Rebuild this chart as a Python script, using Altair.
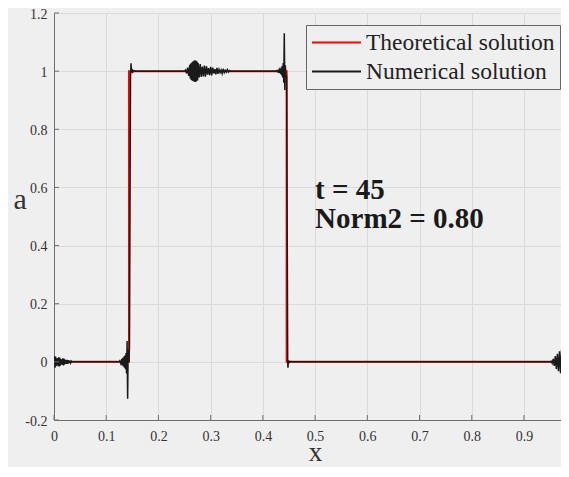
import altair as alt
import pandas as pd

# ---------------- data ----------------
series_names = ["Theoretical solution", "Numerical solution"]
x_ticks = [0.0, 0.1, 0.2, 0.3, 0.4, 0.5, 0.6, 0.7, 0.8, 0.9]
y_ticks = [-0.2, 0.0, 0.2, 0.4, 0.6, 0.8, 1.0, 1.2]

theory_x = [0.0, 0.1436, 0.1436, 0.4455, 0.4455, 1.0]
theory_y = [0.0, 0.0, 1.0, 1.0, 0.0, 0.0]

num_x = [
    0.000, 0.001, 0.002, 0.003, 0.004, 0.005, 0.006, 0.007, 0.008, 0.009,
    0.010, 0.011, 0.012, 0.013, 0.014, 0.015, 0.016, 0.017, 0.018, 0.019,
    0.020, 0.021, 0.022, 0.023, 0.024, 0.025, 0.026, 0.027, 0.028, 0.029,
    0.030, 0.031, 0.032, 0.033, 0.034, 0.036, 0.125,
    0.126, 0.128, 0.130, 0.131, 0.132, 0.133, 0.134, 0.135, 0.136, 0.137,
    0.138, 0.139, 0.140, 0.141, 0.142, 0.1435, 0.1445, 0.1455, 0.1465, 0.1475,
    0.1485, 0.1495, 0.151, 0.153, 0.156, 0.250,
    0.252, 0.254, 0.256, 0.258, 0.260, 0.261, 0.262, 0.263, 0.264, 0.265,
    0.266, 0.267, 0.268, 0.269, 0.270, 0.271, 0.272, 0.273, 0.274, 0.275,
    0.276, 0.278, 0.280, 0.282, 0.284, 0.286, 0.288, 0.290,
    0.292, 0.294, 0.296, 0.298, 0.300, 0.302, 0.304, 0.306, 0.308, 0.310,
    0.312, 0.314, 0.316, 0.318, 0.320, 0.322, 0.324, 0.326, 0.328, 0.330,
    0.332, 0.334, 0.336, 0.338, 0.425,
    0.427, 0.429, 0.431, 0.432, 0.433, 0.434, 0.435, 0.436, 0.437, 0.438,
    0.439, 0.440, 0.441, 0.442, 0.443, 0.444, 0.4455, 0.4465, 0.4475, 0.448,
    0.449, 0.450, 0.452, 0.455, 0.950,
    0.952, 0.954, 0.956, 0.958, 0.960, 0.962, 0.964, 0.966, 0.968, 0.970,
    0.972, 0.974, 0.976, 0.978, 0.980, 0.982, 0.984, 0.986, 0.988, 0.990,
    0.992, 0.994, 0.996, 0.998, 1.000,
]
num_y = [
    0.000, 0.019, -0.020, 0.018, -0.015, 0.012, -0.011, 0.013, -0.015, 0.016,
    -0.016, 0.015, -0.013, 0.010, -0.008, 0.009, -0.011, 0.012, -0.012, 0.011,
    -0.010, 0.008, -0.006, 0.006, -0.007, 0.007, -0.007, 0.006, -0.005, 0.004,
    -0.004, 0.004, -0.003, 0.002, -0.001, 0.000, 0.000,
    0.003, -0.006, 0.010, -0.012, 0.014, -0.016, 0.018, -0.020, 0.022, -0.025,
    0.030, -0.040, 0.072, -0.127, 0.040, 0.000, 0.050, 0.500, 0.980, 1.027,
    0.995, 1.008, 0.997, 1.002, 1.000, 1.000,
    1.004, 0.992, 1.012, 0.984, 1.022, 0.975, 1.026, 0.970, 1.030, 0.967,
    1.033, 0.965, 1.036, 0.964, 1.037, 0.963, 1.036, 0.965, 1.033, 0.968,
    1.028, 0.978, 1.024, 0.980, 1.016, 0.982, 1.019, 0.981,
    1.017, 0.988, 1.010, 0.986, 1.015, 0.985, 1.012, 0.992, 1.007, 0.989,
    1.011, 0.991, 1.006, 0.995, 1.004, 0.992, 1.008, 0.995, 1.003, 0.997,
    1.005, 0.997, 1.002, 1.000, 1.000,
    1.002, 0.997, 1.005, 0.994, 1.008, 0.990, 1.012, 0.985, 1.018, 0.978,
    1.028, 0.960, 1.130, 0.935, 1.020, 0.990, 0.980, 0.500, 0.000, -0.020,
    0.005, -0.003, 0.001, 0.000, 0.000,
    0.002, -0.005, 0.010, -0.014, 0.020, -0.024, 0.028, -0.032, 0.036, -0.039,
    0.041, -0.038, 0.034, -0.030, 0.032, -0.036, 0.039, -0.040, 0.040, -0.038,
    0.035, -0.030, 0.025, -0.020, 0.015,
]

ann_text = ["t = 45", "Norm2 = 0.80"]
ann_x = [0.5, 0.5]
ann_y = [0.56, 0.46]

# ---------------- frames ----------------
theory = pd.DataFrame({"x": theory_x, "a": theory_y,
                       "series": series_names[0], "i": range(len(theory_x))})
numerical = pd.DataFrame({"x": num_x, "a": num_y,
                          "series": series_names[1], "i": range(len(num_x))})
xt = pd.DataFrame({"x": x_ticks})
yt = pd.DataFrame({"a": y_ticks})
ann = pd.DataFrame({"x": ann_x, "a": ann_y, "t": ann_text})

W, H = 507, 407
X_MAX = W / 522.2
SERIF = "Liberation Serif"
BG = "#efefef"
AXC = "#6e6e6e"

xs = alt.Scale(domain=[0, X_MAX], nice=False, zero=False)
ys = alt.Scale(domain=[-0.2, 1.2], nice=False, zero=False)

xaxis = alt.Axis(values=x_ticks, labelExpr="'' + datum.value", ticks=False, tickSize=0,
                 labelPadding=9, labelBaseline="top", labelFont=SERIF, labelFontSize=14,
                 labelColor="#333333", domainColor=AXC, gridColor="#dadada",
                 title="x", titleFont=SERIF, titleFontSize=27, titleFontWeight="normal",
                 titleColor="#333333", titleX=261, titleY=40, titleAlign="center",
                 titleBaseline="alphabetic", labelFlush=False)
yaxis = alt.Axis(values=y_ticks, labelExpr="'' + datum.value", ticks=False, tickSize=0,
                 labelPadding=7, labelOffset=1, labelFont=SERIF, labelFontSize=14,
                 labelColor="#333333", domainColor=AXC, gridColor="#dadada",
                 title="a", titleFont=SERIF, titleFontSize=30, titleFontWeight="normal",
                 titleColor="#333333", titleAngle=0, titleX=-41, titleY=195,
                 titleAlign="left", titleBaseline="alphabetic", labelFlush=False)

legend = alt.Legend(title=None, orient="none", legendX=252, legendY=12, padding=5,
                    strokeColor="#666666", fillColor=BG, labelFont=SERIF,
                    labelFontSize=23.5, labelColor="#222222", symbolType="stroke",
                    symbolSize=2401, symbolStrokeWidth=2, clipHeight=25, rowPadding=4,
                    labelOffset=4, labelLimit=400)
color = alt.Color("series:N", scale=alt.Scale(domain=series_names,
                                              range=["#ff0000", "#1a1a1a"]),
                  legend=legend)

theory_line = alt.Chart(theory).mark_line(strokeWidth=2, clip=True).encode(
    x=alt.X("x:Q", scale=xs, axis=xaxis),
    y=alt.Y("a:Q", scale=ys, axis=yaxis),
    color=color, order="i:Q")
num_line = alt.Chart(numerical).mark_line(strokeWidth=1.5, clip=True).encode(
    x=alt.X("x:Q", scale=xs, axis=xaxis),
    y=alt.Y("a:Q", scale=ys, axis=yaxis),
    color=color, order="i:Q")
yticks = alt.Chart(yt).mark_rule(color=AXC, strokeWidth=1).encode(
    y=alt.Y("a:Q", scale=ys, axis=yaxis), x=alt.value(0), x2=alt.value(5))
xticks = alt.Chart(xt).mark_rule(color=AXC, strokeWidth=1).encode(
    x=alt.X("x:Q", scale=xs, axis=xaxis), y=alt.value(H), y2=alt.value(H - 5))
texts = alt.Chart(ann).mark_text(font=SERIF, fontSize=29, fontWeight="bold",
                                 align="left", baseline="alphabetic",
                                 color="#1a1a1a").encode(
    x=alt.X("x:Q", scale=xs, axis=xaxis),
    y=alt.Y("a:Q", scale=ys, axis=yaxis), text="t:N")

chart = alt.layer(theory_line, num_line, yticks, xticks, texts).properties(
    width=W, height=H, autosize="none",
    padding={"left": 46, "top": 5, "right": 0, "bottom": 47},
).configure(background=BG).configure_view(stroke=None)

chart.save("out.html", embed_options={"renderer": "svg", "actions": False})
